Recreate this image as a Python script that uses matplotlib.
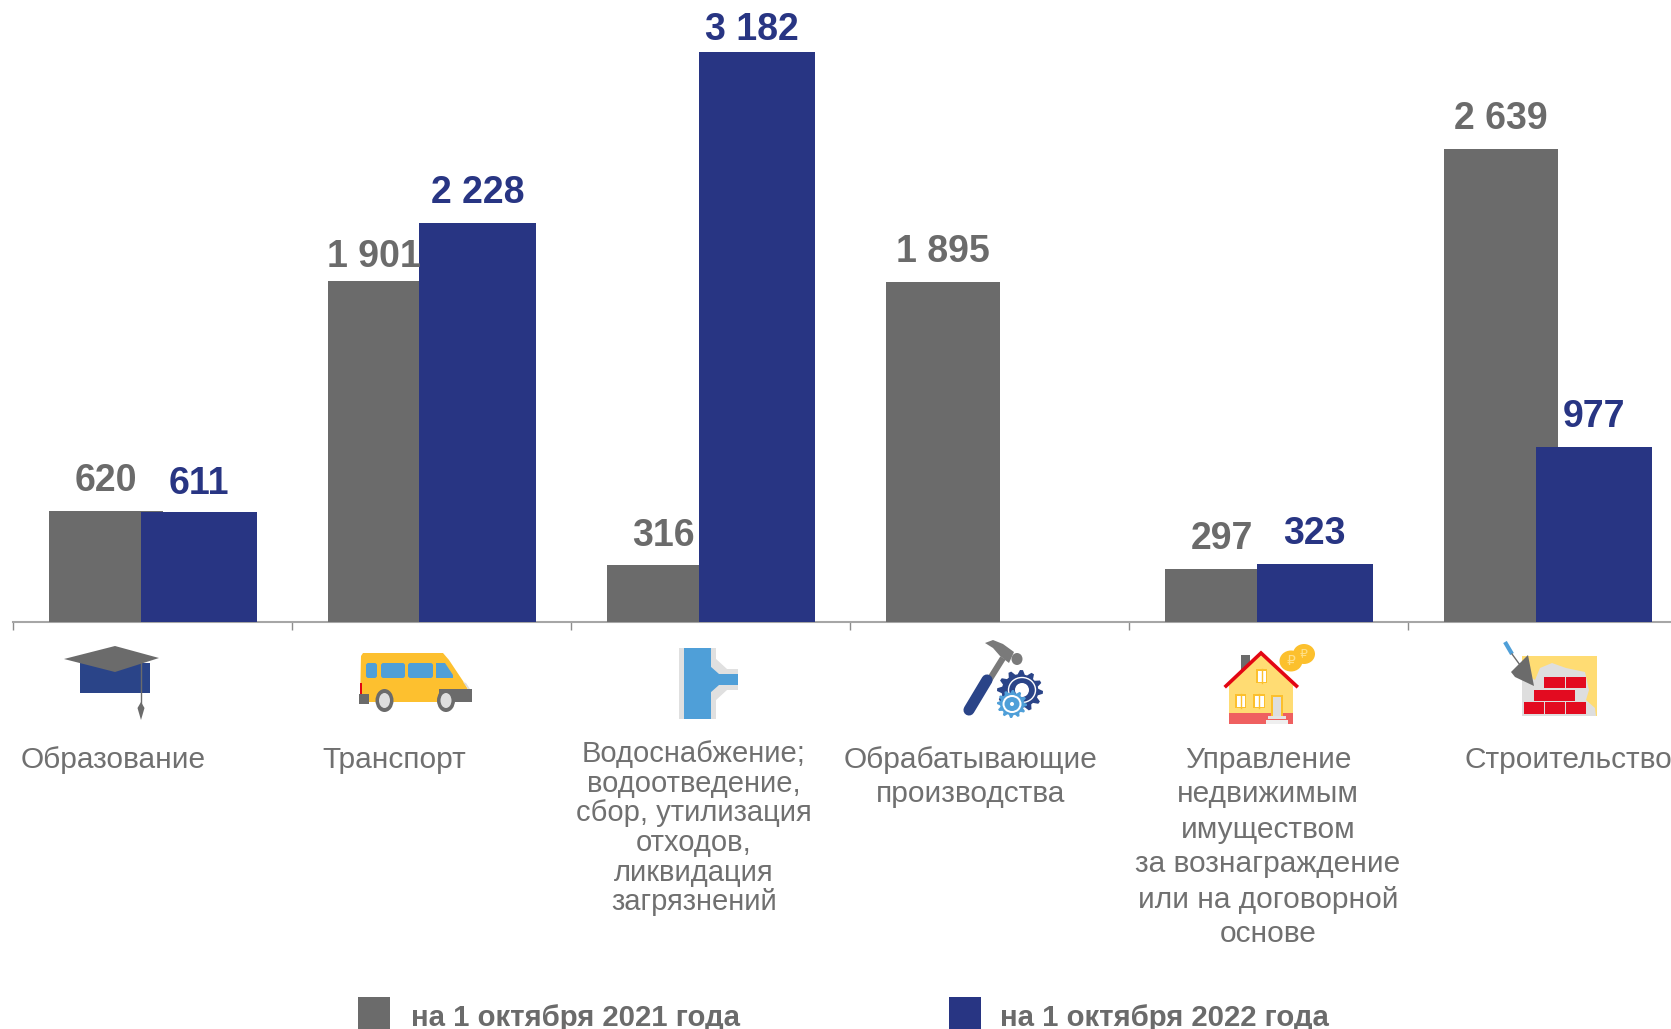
import matplotlib
matplotlib.use('Agg')
import matplotlib.pyplot as plt
import numpy as np
from matplotlib.patches import Polygon, Rectangle, Ellipse, FancyBboxPatch

plt.rcParams['font.family'] = ['Liberation Sans', 'DejaVu Sans']

categories = [
    ['Образование'],
    ['Транспорт'],
    ['Водоснабжение;', 'водоотведение,', 'сбор, утилизация', 'отходов,', 'ликвидация', 'загрязнений'],
    ['Обрабатывающие', 'производства'],
    ['Управление', 'недвижимым', 'имуществом', 'за вознаграждение', 'или на договорной', 'основе'],
    ['Строительство'],
]
values_2021 = [620, 1901, 316, 1895, 297, 2639]
values_2022 = [611, 2228, 3182, None, 323, 977]
label_2021 = 'на 1 октября 2021 года'
label_2022 = 'на 1 октября 2022 года'

GREY = '#6b6b6b'
BLUE = '#283583'
TEXT = '#707070'
W, H = 1671, 1029
BASE_Y = 622
GROUP = 279
X0 = 12.5
PX_PER_UNIT = 570.5 / 3182


def fmt(v):
    return f'{v:,}'.replace(',', ' ')


fig = plt.figure(figsize=(W / 100, H / 100), dpi=100)

# bars live in an axes whose origin is the baseline
ax = fig.add_axes([X0 / W, 1 - BASE_Y / H, 1 - X0 / W, BASE_Y / H])
ax.set_xlim(0, (W - X0) / GROUP)
ax.set_ylim(0, BASE_Y / PX_PER_UNIT)
ax.patch.set_alpha(0)

x = np.arange(len(values_2021))
grey_w = 113.5 / GROUP
blue_w = 116.5 / GROUP
grey_x = x + 36.5 / GROUP
blue_x = x + 128 / GROUP
ax.bar(grey_x, values_2021, width=grey_w, align='edge', color=GREY, zorder=3)
blue_vals = [0 if v is None else v for v in values_2022]
ax.bar(blue_x, blue_vals, width=blue_w, align='edge', color=BLUE, zorder=4)

for s in ['top', 'left', 'right']:
    ax.spines[s].set_visible(False)
ax.spines['bottom'].set_color('#a6a6a6')
ax.spines['bottom'].set_linewidth(1.5)
ax.set_yticks([])
ax.set_xticks(x)
ax.set_xticklabels([])
ax.tick_params(axis='x', length=6, width=1, color='#8c8c8c')

# label nudges in pixels (dx, dy above bar top)
nudge_2021 = [(0, 30), (-11, 24), (0, 29), (0, 30), (0, 30), (0, 30)]
nudge_2022 = [(0, 28), (0, 30), (-5, 22), None, (0, 30), (0, 30)]
for i, v in enumerate(values_2021):
    dx, dy = nudge_2021[i]
    ax.annotate(fmt(v), (grey_x[i] + grey_w / 2, v), xytext=(dx * 0.72, dy * 0.72),
                textcoords='offset points', ha='center', va='center',
                fontsize=27, fontweight='bold', color=GREY, zorder=5, annotation_clip=False)
for i, v in enumerate(values_2022):
    if v is None:
        continue
    dx, dy = nudge_2022[i]
    ax.annotate(fmt(v), (blue_x[i] + blue_w / 2, v), xytext=(dx * 0.72, dy * 0.72),
                textcoords='offset points', ha='center', va='center',
                fontsize=27, fontweight='bold', color=BLUE, zorder=5, annotation_clip=False)

# overlay in image pixels for the icons, category text and legend
ov = fig.add_axes([0, 0, 1, 1])
ov.set_xlim(0, W)
ov.set_ylim(H, 0)
ov.axis('off')
ov.patch.set_alpha(0)


def poly(pts, color, z=6):
    ov.add_patch(Polygon(pts, closed=True, fc=color, ec='none', zorder=z))


def rect(x0, y0, x1, y1, color, z=6):
    ov.add_patch(Rectangle((x0, y0), x1 - x0, y1 - y0, fc=color, ec='none', zorder=z))


def ell(cx, cy, rx, ry, color, z=6):
    ov.add_patch(Ellipse((cx, cy), 2 * rx, 2 * ry, fc=color, ec='none', zorder=z))


def round_rect(x0, y0, x1, y1, color, z=7, r=2.5):
    ov.add_patch(FancyBboxPatch((x0 + r, y0 + r), x1 - x0 - 2 * r, y1 - y0 - 2 * r,
                                boxstyle=f'round,pad={r}', fc=color, ec='none', zorder=z))


def gear(cx, cy, rx, ry, teeth, color, z=7):
    ang = np.linspace(0, 2 * np.pi, teeth * 4, endpoint=False)
    k = np.tile([1, 1, 0.8, 0.8], teeth)
    poly(np.c_[cx + rx * k * np.cos(ang), cy + ry * k * np.sin(ang)], color, z)


def draw_cap():
    rect(80, 663, 150, 693, '#2a4488')
    poly([(64, 659), (115, 646), (159, 658), (115, 672)], GREY, 7)
    ov.plot([141, 141], [663, 705], color=GREY, lw=1, zorder=8)
    poly([(141, 702), (144.5, 708), (141, 720), (137.5, 708)], GREY, 8)


def draw_bus():
    yellow = '#fdc02f'
    win = '#4f9fd8'
    poly([(361, 656), (363, 653), (443, 653), (449, 660), (465, 684), (471, 695),
          (471, 702), (360, 702)], yellow)
    rect(360, 683, 362, 694, '#e30613', 7)
    rect(439, 689, 472, 702, GREY, 7)
    rect(359, 694, 369, 704, GREY, 7)
    round_rect(366, 663, 377, 678, win)
    round_rect(381, 663, 405, 678, win)
    round_rect(408, 663, 433, 678, win)
    poly([(436, 663), (445, 663), (453, 675), (453, 678), (436, 678)], win, 7)
    poly([(463, 682), (466, 683), (470, 689), (468, 689)], '#dddddd', 8)
    for cx in (384.5, 446):
        ell(cx, 700.5, 9, 11.5, GREY, 8)
        ell(cx, 700.5, 5.5, 7.5, '#dedede', 9)


def draw_pipe():
    light = '#e0e0e0'
    blue = '#4f9fd8'
    rect(679, 648, 715.5, 719, light)
    rect(715, 669, 738, 690, light)
    poly([(715, 658), (715, 669), (727, 669)], light)
    poly([(715, 701), (715, 690), (727, 690)], light)
    rect(684, 648, 710.5, 719, blue, 7)
    rect(710, 674, 738, 685, blue, 7)
    poly([(710, 666), (710, 674), (719, 674)], blue, 7)
    poly([(710, 693), (710, 685), (719, 685)], blue, 7)


def draw_tools():
    ov.plot([1003, 988], [658, 682], color='#7a7a7a', lw=4.5, zorder=6, solid_capstyle='butt')
    ov.plot([987, 969], [680, 710], color='#2a4488', lw=8, zorder=7, solid_capstyle='round')
    poly([(985, 643), (993, 640), (1003, 644), (1014, 652), (1009, 663), (1000, 656), (993, 648)], '#7a7a7a')
    ell(1017, 659, 5.5, 6, '#7a7a7a')
    gear(1020, 691, 23, 21, 12, '#2a4488')
    ov.add_patch(Ellipse((1022, 690), 27, 25, fc='none', ec='white', lw=1, zorder=8))
    ell(1022, 690, 7, 7, 'white', 8)
    gear(1012, 704, 15, 14, 12, '#4f9fd8', 9)
    ell(1012, 704, 9.5, 9, 'white', 10)
    ell(1012, 704, 7.5, 7, '#4f9fd8', 11)
    ell(1012, 704, 2, 2, 'white', 12)


def draw_house():
    wall = '#ffdc73'
    edge = '#fcc02d'
    coin = '#fcc02d'
    ell(1304, 654, 11, 10, coin)
    ov.text(1304, 654, '₽', fontsize=9, color='#ffe08a', ha='center', va='center', zorder=7,
            family='DejaVu Sans')
    ell(1291, 661, 11.5, 10.5, coin, 7)
    ov.text(1291, 661, '₽', fontsize=10, color='#ffe08a', ha='center', va='center', zorder=8,
            family='DejaVu Sans')
    rect(1240.5, 655, 1249.5, 672, GREY)
    rect(1229, 686, 1293, 724, wall, 7)
    poly([(1261, 652), (1227, 686), (1295, 686)], wall, 7)
    ov.plot([1226, 1261, 1296.5], [686, 653, 686], color='#e30613', lw=2.6, zorder=9,
            solid_joinstyle='miter')
    rect(1229, 713, 1293, 724, '#ef6060', 8)
    for (x0, y0, x1, y1) in [(1256, 669, 1267, 683), (1235, 694, 1246, 708), (1253, 694, 1265, 708)]:
        rect(x0, y0, x1, y1, edge, 8)
        rect(x0 + 1.5, y0 + 1.5, x1 - 1.5, y1 - 1.5, 'white', 9)
        ov.plot([(x0 + x1) / 2] * 2, [y0, y1], color=edge, lw=1, zorder=10)
    rect(1271, 695, 1283, 716, edge, 8)
    rect(1273, 697, 1281, 716, '#dedede', 9)
    rect(1268, 716, 1286, 719, '#e4e4e4', 9)
    rect(1266, 720, 1288, 724, '#efefef', 9)


def draw_bricks():
    red = '#e30b20'
    rect(1522, 656, 1597, 716, '#ffdc73')
    poly([(1522, 672), (1535, 680), (1540, 668), (1552, 663), (1566, 668), (1585, 672),
          (1589, 690), (1586, 700), (1595, 708), (1596, 716), (1522, 716)], '#dedede', 7)
    for (x0, y0, x1, y1) in [(1544, 677, 1565, 688), (1565.5, 677, 1586, 688),
                             (1534, 690, 1554.5, 701), (1555, 690, 1575, 701),
                             (1524, 702, 1544, 714), (1544.5, 702, 1565, 714), (1565.5, 702, 1586, 714)]:
        rect(x0, y0, x1, y1, red, 8)
    poly([(1528, 655), (1511, 672), (1515, 677), (1534, 686)], GREY, 9)
    ov.plot([1505, 1512], [642, 654], color='#4f9fd8', lw=3, zorder=9, solid_capstyle='butt')
    ov.plot([1512, 1520], [654, 665], color=GREY, lw=1, zorder=9)


draw_cap()
draw_bus()
draw_pipe()
draw_tools()
draw_house()
draw_bricks()

# category text, line by line since spacing differs between groups
text_pos = [
    (113, 759.5, 35, 21.5, 'center'),
    (394.5, 759.5, 35, 21.5, 'center'),
    (694, 754, 29.7, 21, 'center'),
    (971, 759.5, 35, 21.5, 'center'),
    (1268, 759.5, 35, 21.5, 'center'),
    (1465, 759.5, 35, 21.5, 'left'),
]
for lines, (tx, ty, step, fs, ha) in zip(categories, text_pos):
    for n, line in enumerate(lines):
        ov.text(tx, ty + n * step, line, fontsize=fs, color=TEXT, ha=ha, va='center', zorder=6)

# legend, cut by the bottom edge in the source
rect(358, 997, 390, 1029, GREY)
rect(949, 997, 981, 1029, BLUE)
ov.text(411, 1026, label_2021, fontsize=21.2, fontweight='bold', color=GREY, ha='left', va='baseline')
ov.text(1000, 1026, label_2022, fontsize=21.2, fontweight='bold', color=GREY, ha='left', va='baseline')

fig.savefig('out.png', dpi=100)
